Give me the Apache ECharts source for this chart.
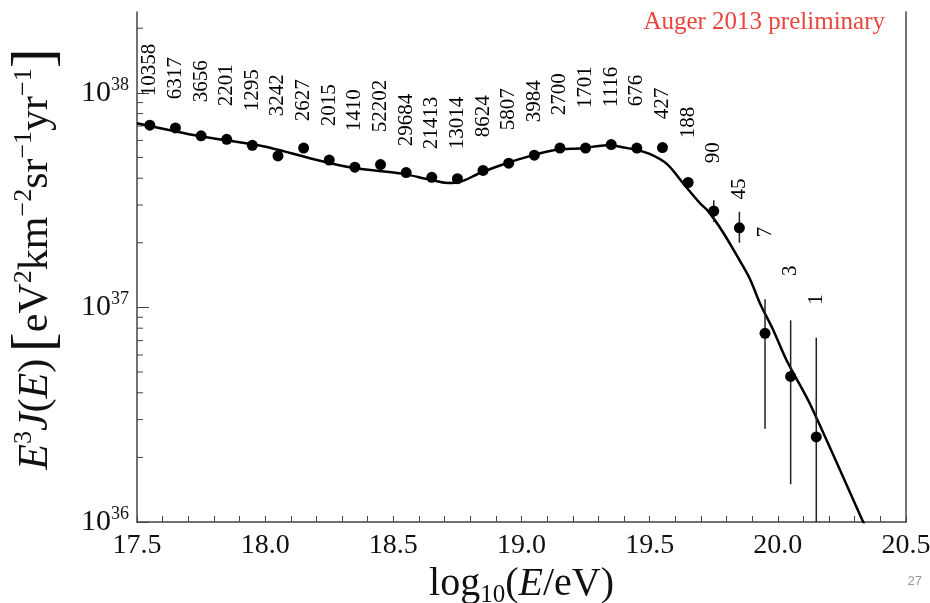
<!DOCTYPE html>
<html>
<head>
<meta charset="utf-8">
<script src="https://cdn.jsdelivr.net/npm/echarts@6/dist/echarts.min.js"></script>
<style>
  html, body { margin: 0; padding: 0; background: #fff; }
  #main { width: 930px; height: 603px; }
</style>
</head>
<body>
<div id="main"></div>
<script>
var myChart = echarts.init(document.getElementById('main'));

// energy bins, log10(E/eV)
var binX = [17.55, 17.65, 17.75, 17.85, 17.95, 18.05, 18.15, 18.25, 18.35, 18.45, 18.55, 18.65, 18.75, 18.85,
            18.95, 19.05, 19.15, 19.25, 19.35, 19.45, 19.55, 19.65, 19.75, 19.85, 19.95, 20.05, 20.15];
// E^3 J(E)
var flux = [7.07e37, 6.86e37, 6.30e37, 6.07e37, 5.69e37, 5.08e37, 5.53e37, 4.86e37, 4.50e37, 4.63e37, 4.25e37, 4.04e37, 3.98e37, 4.35e37,
            4.70e37, 5.12e37, 5.53e37, 5.53e37, 5.74e37, 5.53e37, 5.56e37, 3.82e37, 2.81e37, 2.35e37, 7.57e36, 4.77e36, 2.49e36];
// number of events per bin
var events = [10358, 6317, 3656, 2201, 1295, 3242, 2627, 2015, 1410, 52202, 29684, 21413, 13014, 8624,
              5807, 3984, 2700, 1701, 1116, 676, 427, 188, 90, 45, 7, 3, 1];
// where the event counts sit (lower end of the text)
var countY = [9.63e37, 9.33e37, 9.04e37, 8.65e37, 8.20e37, 7.78e37, 7.37e37, 6.98e37, 6.62e37, 6.55e37, 5.63e37, 5.46e37, 5.46e37, 6.21e37,
              6.69e37, 7.29e37, 7.86e37, 8.47e37, 8.57e37, 8.65e37, 7.54e37, 6.14e37, 4.70e37, 3.18e37, 2.12e37, 1.40e37, 1.03e37];

// error bars
var errX  = [19.75, 19.85, 19.95, 20.05, 20.15];
var errLo = [2.50e37, 2.00e37, 2.72e36, 1.50e36, 1.00e36];
var errHi = [3.16e37, 2.79e37, 1.09e37, 8.71e36, 7.22e36];

// fitted curve
var fitX = [17.50, 17.746, 17.992, 18.214, 18.343, 18.538, 18.635, 18.713, 18.760, 18.838, 18.944, 19.033, 19.131,
            19.236, 19.334, 19.435, 19.502, 19.568, 19.630, 19.696, 19.728, 19.786, 19.853, 19.892, 19.931, 19.981,
            20.036, 20.126, 20.333, 20.345];
var fitY = [7.21e37, 6.27e37, 5.64e37, 4.82e37, 4.47e37, 4.19e37, 3.96e37, 3.80e37, 3.84e37, 4.23e37, 4.71e37, 5.07e37, 5.41e37,
            5.52e37, 5.70e37, 5.46e37, 5.18e37, 4.65e37, 3.79e37, 3.06e37, 2.81e37, 2.24e37, 1.64e37, 1.35e37, 1.04e37, 7.89e36,
            5.61e36, 3.54e36, 1.00e36, 0.93e36];

// axis
var yMajor = [1e36, 1e37, 1e38];
var yMinor = [2e36, 3e36, 4e36, 5e36, 6e36, 7e36, 8e36, 9e36,
              2e37, 3e37, 4e37, 5e37, 6e37, 7e37, 8e37, 9e37, 2e38];

var serif = 'Liberation Serif';
var axisColor = '#444';

function zip(a, b) {
    var out = [];
    for (var i = 0; i < a.length; i++) out.push([a[i], b[i]]);
    return out;
}

var pointData = zip(binX, flux);
var fitData = zip(fitX, fitY);
var countData = [];
for (var i = 0; i < binX.length; i++) countData.push([binX[i], countY[i], events[i]]);
var errData = [];
for (var j = 0; j < errX.length; j++) errData.push([errX[j], errLo[j], errHi[j]]);

var option = {
    animation: false,
    backgroundColor: '#fff',
    grid: { left: 137, right: 24, top: 12, bottom: 81, outerBoundsMode: 'none' },
    xAxis: {
        type: 'value',
        min: 17.5,
        max: 20.5,
        interval: 0.5,
        name: '{n|log}{s|10}{n|(}{i|E}{n|/eV)}',
        nameLocation: 'middle',
        nameGap: 38,
        nameTextStyle: {
            rich: {
                n: { fontFamily: serif, fontSize: 40, color: '#111', lineHeight: 46 },
                i: { fontFamily: serif, fontSize: 40, fontStyle: 'italic', color: '#111', lineHeight: 46 },
                s: { fontFamily: serif, fontSize: 25, color: '#111', verticalAlign: 'bottom', lineHeight: 46, padding: [16, 0, 0, 0] }
            }
        },
        axisLine: { show: true, onZero: false, lineStyle: { color: axisColor, width: 1.5 } },
        axisTick: { show: true, inside: true, length: 6, lineStyle: { color: axisColor } },
        minorTick: { show: true, splitNumber: 5, length: 6, lineStyle: { color: axisColor } },
        splitLine: { show: false },
        axisLabel: {
            fontFamily: serif, fontSize: 28, color: '#111', margin: 10,
            formatter: function (v) { return v.toFixed(1); }
        }
    },
    yAxis: [{
        type: 'log',
        logBase: 10,
        min: 1e36,
        max: 2.38e38,
        position: 'left',
        name: '{i|E}{s|3}{i|J}{n|(}{i|E}{n|)}  {b|[}{n|eV}{s|2}{n|km}{s|−2}{n|sr}{s|−1}{n|yr}{s|−1}{b|]}',
        nameLocation: 'middle',
        nameRotate: 90,
        nameGap: 76,
        nameTextStyle: {
            padding: [0, 0, 0, 16],
            rich: {
                n: { fontFamily: serif, fontSize: 42, color: '#111', lineHeight: 50 },
                i: { fontFamily: serif, fontSize: 42, fontStyle: 'italic', color: '#111', lineHeight: 50 },
                s: { fontFamily: serif, fontSize: 26, color: '#111', verticalAlign: 'top', lineHeight: 50 },
                b: { fontFamily: serif, fontSize: 60, color: '#111', lineHeight: 50 }
            }
        },
        axisLine: { show: true, onZero: false, lineStyle: { color: axisColor, width: 1.5 } },
        axisTick: { show: true, inside: true, length: 12, customValues: yMajor, lineStyle: { color: axisColor } },
        splitLine: { show: false },
        axisLabel: {
            margin: 8,
            customValues: yMajor,
            formatter: function (v) {
                var e = Math.round(Math.log10(v));
                return '{n|10}{s|' + e + '}';
            },
            rich: {
                n: { fontFamily: serif, fontSize: 30, color: '#111', lineHeight: 34 },
                s: { fontFamily: serif, fontSize: 18, color: '#111', verticalAlign: 'top', lineHeight: 34 }
            }
        }
    }, {
        type: 'log',
        logBase: 10,
        min: 1e36,
        max: 2.38e38,
        position: 'right',
        axisLine: { show: true, lineStyle: { color: axisColor, width: 1.5 } },
        axisTick: { show: false },
        axisLabel: { show: false },
        splitLine: { show: false }
    }],
    graphic: [{
        type: 'text',
        right: 45,
        top: 10,
        style: { text: 'Auger 2013 preliminary', fontFamily: serif, fontSize: 25, fill: '#e8453c' }
    }, {
        type: 'text',
        right: 8,
        top: 575,
        style: { text: '27', fontFamily: 'Liberation Sans Narrow, Liberation Sans', fontSize: 13, fill: '#999' }
    }],
    series: [{
        // minor ticks of the log axis at 2..9 x 10^n
        type: 'custom',
        silent: true,
        z: 1,
        data: yMinor.map(function (v) { return [17.5, v]; }),
        renderItem: function (params, api) {
            var p = api.coord([api.value(0), api.value(1)]);
            return {
                type: 'line',
                shape: { x1: p[0], y1: p[1], x2: p[0] + 6, y2: p[1] },
                style: { stroke: axisColor, lineWidth: 1 }
            };
        }
    }, {
        name: 'fit',
        type: 'line',
        data: fitData,
        smooth: 0.3,
        showSymbol: false,
        clip: true,
        z: 2,
        lineStyle: { color: '#000', width: 2.5 }
    }, {
        name: 'errors',
        type: 'custom',
        z: 3,
        data: errData,
        renderItem: function (params, api) {
            var p1 = api.coord([api.value(0), api.value(1)]);
            var p2 = api.coord([api.value(0), api.value(2)]);
            return {
                type: 'line',
                shape: { x1: p1[0], y1: p1[1], x2: p2[0], y2: p2[1] },
                style: { stroke: '#222', lineWidth: 1.5 }
            };
        }
    }, {
        name: 'Auger',
        type: 'scatter',
        data: pointData,
        symbol: 'circle',
        symbolSize: 11,
        z: 4,
        itemStyle: { color: '#000', opacity: 1 }
    }, {
        name: 'counts',
        type: 'scatter',
        data: countData,
        symbolSize: 1,
        silent: true,
        z: 5,
        itemStyle: { color: 'rgba(0,0,0,0)', opacity: 1 },
        label: {
            show: true,
            position: 'inside',
            rotate: 90,
            align: 'left',
            verticalAlign: 'middle',
            fontFamily: serif,
            fontSize: 21,
            color: '#000',
            textBorderWidth: 0,
            opacity: 1,
            formatter: function (p) { return String(p.value[2]); }
        }
    }]
};

myChart.setOption(option);
</script>
</body>
</html>
